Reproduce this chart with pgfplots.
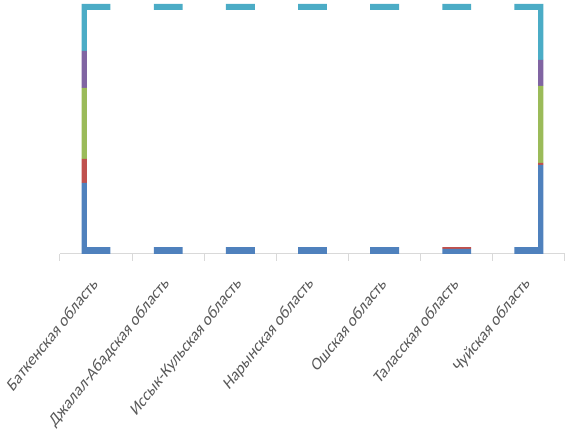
\documentclass[border=0pt]{standalone}
\usepackage{pgfplots}
\pgfplotsset{compat=1.18}
\usepackage{fontspec}
\setmainfont{Carlito}
\usetikzlibrary{calc}
\definecolor{s1}{HTML}{4F81BD}
\definecolor{s2}{HTML}{C0504D}
\definecolor{s3}{HTML}{9BBB59}
\definecolor{s4}{HTML}{8064A2}
\definecolor{s5}{HTML}{4BACC6}
\definecolor{axgray}{HTML}{D9D9D9}
\definecolor{labgray}{HTML}{595959}
\begin{document}
\begin{tikzpicture}
\begin{axis}[name=ax, at={(0,0)}, anchor=south west,
  scale only axis, width=378.75pt, height=187.5pt,
  ybar stacked, bar width=0.4,
  xmin=-0.5, xmax=6.5, ymin=0, ymax=100,
  axis x line*=bottom, axis y line=none,
  axis line style={axgray, line width=0.75pt},
  xtick={0,...,6},
  xticklabels={Баткенская область, Джалал-Абадская область, Иссык-Кульская область, Нарынская область, Ошская область, Таласская область, Чуйская область},
  major tick length=0pt,
  minor xtick={-0.5,0.5,...,6.5},
  minor tick length=5pt,
  tick align=outside,
  minor tick style={axgray, line width=0.75pt},
  ytick=\empty,
  xticklabel shift=19pt,
  xticklabel style={cm={0.7071,0.8839,-0.7071,0.8839,(0,0)}, anchor=east, font=\fontsize{11}{13}\selectfont, text=labgray, inner sep=1pt},
  every axis plot/.append style={draw=none},
]
\addplot[fill=s1] coordinates {(0,28.4) (1,30) (2,35) (3,25) (4,40) (5,2) (6,35.6)};
\addplot[fill=s2] coordinates {(0,9.6) (1,8) (2,10) (3,12) (4,10) (5,3) (6,0.8)};
\addplot[fill=s3] coordinates {(0,28.4) (1,30) (2,25) (3,28) (4,25) (5,60) (6,30.8)};
\addplot[fill=s4] coordinates {(0,14.8) (1,12) (2,10) (3,15) (4,10) (5,30) (6,10.4)};
\addplot[fill=s5] coordinates {(0,18.8) (1,20) (2,20) (3,20) (4,15) (5,5) (6,22.4)};
\coordinate (mA) at (axis cs:-0.125,2.8);
\coordinate (mB) at (axis cs:6.12,97.6);
\end{axis}
\fill[white] (mA) rectangle (mB);
\pgfresetboundingbox
\path ($(ax.south west)+(-45pt,-143.25pt)$) rectangle ($(ax.south west)+(383.25pt,190.5pt)$);
\end{tikzpicture}
\end{document}
